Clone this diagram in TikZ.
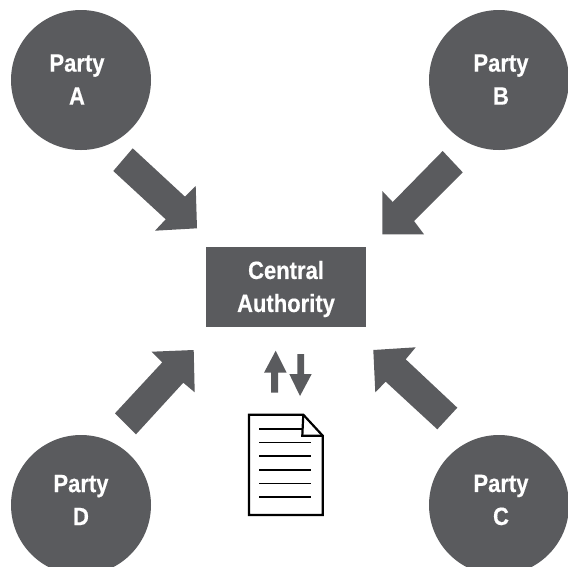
\documentclass[tikz,border=0pt]{standalone}
\usepackage{fontspec}
\setmainfont[FakeStretch=0.88,BoldFeatures={FakeBold=0.4}]{Liberation Sans}
\definecolor{dgray}{RGB}{90,91,94}
\tikzset{
  x=1pt,y=-1pt,
  party/.style={circle,fill=dgray,draw=none,minimum size=140pt,inner sep=0pt},
  central/.style={rectangle,fill=dgray,draw=none,minimum width=160pt,minimum height=80pt,inner sep=0pt},
  lbl/.style={text=white,font=\fontsize{25}{33}\selectfont\bfseries,align=center,inner sep=0pt},
  blockarrow/.style={fill=dgray,draw=none},
  docline/.style={draw=black,line width=1.6pt},
  docoutline/.style={draw=black,line width=2.2pt,line join=miter}
}
\begin{document}
\begin{tikzpicture}
\useasboundingbox (0,0) rectangle (568,566);
\path[clip] (0,0) rectangle (568,566);
\node[party] (pa) at (81,80) {};
\node[party] (pb) at (499,80) {};
\node[party] (pc) at (499,505) {};
\node[party] (pd) at (81,505) {};
\node[central] (ca) at (286,287) {};
\node[lbl] (ta) at (77,79.5) {Party\\A};
\node[lbl] (tb) at (501,79.5) {Party\\B};
\node[lbl] (tc) at (501,500) {Party\\C};
\node[lbl] (td) at (81,500) {Party\\D};
\node[lbl] (tca) at (286,289) {Central\\Authority};
% block arrows
\fill[blockarrow] (132.7,148.3) -- (113.3,171) -- (165.7,219.3) -- (155,230.7) -- (197,228.3) -- (195.7,186) -- (185,196.7) -- cycle;
\fill[blockarrow] (442.7,151) -- (462.7,172.3) -- (414,221) -- (424,234.3) -- (382.3,234.3) -- (382.3,191) -- (392.7,202) -- cycle;
\fill[blockarrow] (115,413.3) -- (136,434.3) -- (183.3,382.7) -- (194.7,392.3) -- (193.7,350) -- (151.7,351.7) -- (162.3,362.3) -- cycle;
\fill[blockarrow] (457.3,407.7) -- (437.3,429.3) -- (385.7,381.7) -- (375.3,392.3) -- (373.3,350) -- (415.7,347.3) -- (405.7,359.3) -- cycle;
% small arrows
\fill[blockarrow] (275.7,350.7) -- (286.7,372.7) -- (278,372.7) -- (278,392.7) -- (271,392.7) -- (271,372.7) -- (264,372.7) -- cycle;
\fill[blockarrow] (297.3,354) -- (304,354) -- (304,374) -- (311.7,374) -- (300,396) -- (289.3,374) -- (297.3,374) -- cycle;
% document
\draw[docoutline] (249,414.7) -- (303.3,414.7) -- (322.7,435.7) -- (322.7,515) -- (249,515) -- cycle;
\draw[docoutline] (303.3,414.7) -- (302.3,435.7) -- (322.7,435.7);
\draw[docline] (259,428.7) -- (302.3,428.7);
\foreach \y in {442.3,456,469.7,483.3,497} \draw[docline] (259,\y) -- (311,\y);
\end{tikzpicture}
\end{document}
